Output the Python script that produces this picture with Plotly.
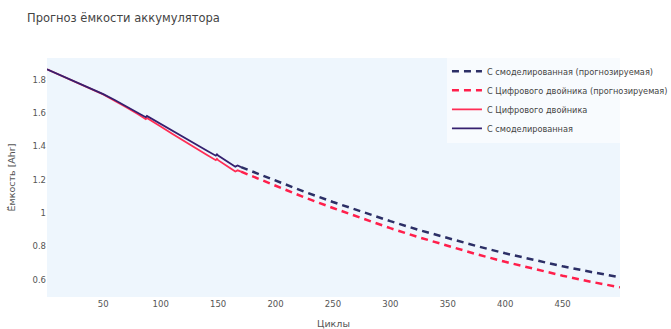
import plotly.graph_objects as go

# Measured (solid) series
cycles_meas = [1, 10, 20, 30, 40, 48, 50, 60, 70, 80, 87, 88, 90, 100, 110, 119, 120,
               130, 140, 148, 149, 150, 160, 165, 167, 170]
cap_model = [1.862, 1.835, 1.806, 1.776, 1.745, 1.720, 1.713, 1.678, 1.641, 1.602, 1.575,
             1.582, 1.574, 1.533, 1.492, 1.454, 1.452, 1.413, 1.375, 1.344, 1.352, 1.345,
             1.302, 1.278, 1.285, 1.275]
cap_twin = [1.862, 1.835, 1.806, 1.776, 1.744, 1.718, 1.711, 1.674, 1.635, 1.594, 1.563,
            1.570, 1.562, 1.519, 1.476, 1.436, 1.434, 1.392, 1.350, 1.317, 1.325, 1.317,
            1.272, 1.249, 1.256, 1.248]

# Forecast (dashed) series
cycles_pred = [170, 200, 225, 250, 275, 300, 325, 350, 375, 400, 425, 450, 475, 500]
pred_model = [1.275, 1.193, 1.128, 1.066, 1.007, 0.951, 0.898, 0.848, 0.802, 0.758,
              0.717, 0.680, 0.646, 0.614]
pred_twin = [1.248, 1.162, 1.094, 1.030, 0.968, 0.909, 0.854, 0.802, 0.753, 0.707,
             0.664, 0.624, 0.587, 0.554]

x_ticks = [50, 100, 150, 200, 250, 300, 350, 400, 450]
y_ticks = [0.6, 0.8, 1, 1.2, 1.4, 1.6, 1.8]
y_ticktext = ["0.6", "0.8", "1", "1.2", "1.4", "1.6", "1.8"]

FONT = "DejaVu Sans"

fig = go.Figure()
fig.add_trace(go.Scatter(x=cycles_pred, y=pred_model, mode="lines",
                         name="С смоделированная (прогнозируемая)",
                         line=dict(color="#2c2f66", width=2.5, dash="7px,5px")))
fig.add_trace(go.Scatter(x=cycles_pred, y=pred_twin, mode="lines",
                         name="С Цифрового двойника (прогнозируемая)",
                         line=dict(color="#ff1f4b", width=2.5, dash="7px,5px")))
fig.add_trace(go.Scatter(x=cycles_meas, y=cap_twin, mode="lines",
                         name="С Цифрового двойника",
                         line=dict(color="#ff2d55", width=1.8)))
fig.add_trace(go.Scatter(x=cycles_meas, y=cap_model, mode="lines",
                         name="С смоделированная",
                         line=dict(color="#35206f", width=1.8)))

fig.update_layout(
    width=671, height=329,
    margin=dict(l=47, r=51, t=58, b=32, autoexpand=False),
    paper_bgcolor="white",
    plot_bgcolor="#eef6fd",
    font=dict(family=FONT, size=9, color="#555"),
    title=dict(text="Прогноз ёмкости аккумулятора", x=27/671, xanchor="left",
               y=1 - 18/329, yanchor="middle", yref="container",
               font=dict(family=FONT, size=11.5, color="#444")),
    showlegend=True,
    legend=dict(x=0.698, y=1.005, xanchor="left", yanchor="top",
                bgcolor="rgba(255,255,255,0.6)", font=dict(family=FONT, size=8.2, color="#444"),
                traceorder="normal", tracegroupgap=0),
    xaxis=dict(title=dict(text="Циклы", font=dict(size=9.5, color="#555")),
               range=[1, 500], showgrid=False, zeroline=False, showline=False,
               tickvals=x_ticks,
               tickfont=dict(size=8.5, color="#555"), automargin=False, ticks=""),
    yaxis=dict(title=dict(text="Ёмкость [Ahr]", font=dict(size=9.5, color="#555")),
               range=[0.496, 1.93], showgrid=False, zeroline=False, showline=False,
               tickvals=y_ticks, ticktext=y_ticktext,
               tickfont=dict(size=8.5, color="#555"), automargin=False, ticks=""),
)

fig.write_html("out.html", config={"displayModeBar": False},
               post_script="document.body.style.margin='0';document.body.style.overflow='hidden';")
